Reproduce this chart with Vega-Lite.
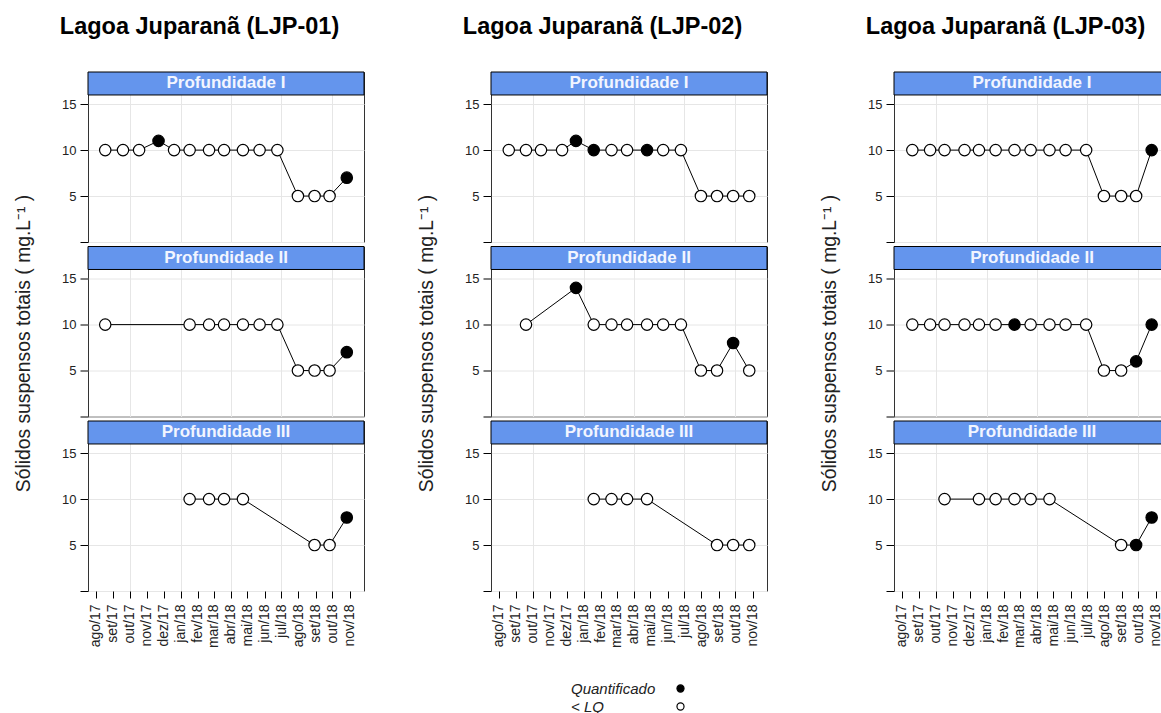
{
  "$schema": "https://vega.github.io/schema/vega-lite/v6.json",
  "padding": {"left": 14, "top": 14, "right": 0, "bottom": 0},
  "background": "white",
  "data": {"values": [
    {"estacao":"LJP-01","prof":"Profundidade I","data":"2017-08-18","valor":10,"status":"< LQ"},
    {"estacao":"LJP-01","prof":"Profundidade I","data":"2017-09-19","valor":10,"status":"< LQ"},
    {"estacao":"LJP-01","prof":"Profundidade I","data":"2017-10-18","valor":10,"status":"< LQ"},
    {"estacao":"LJP-01","prof":"Profundidade I","data":"2017-11-22","valor":11,"status":"Quantificado"},
    {"estacao":"LJP-01","prof":"Profundidade I","data":"2017-12-20","valor":10,"status":"< LQ"},
    {"estacao":"LJP-01","prof":"Profundidade I","data":"2018-01-17","valor":10,"status":"< LQ"},
    {"estacao":"LJP-01","prof":"Profundidade I","data":"2018-02-21","valor":10,"status":"< LQ"},
    {"estacao":"LJP-01","prof":"Profundidade I","data":"2018-03-20","valor":10,"status":"< LQ"},
    {"estacao":"LJP-01","prof":"Profundidade I","data":"2018-04-23","valor":10,"status":"< LQ"},
    {"estacao":"LJP-01","prof":"Profundidade I","data":"2018-05-23","valor":10,"status":"< LQ"},
    {"estacao":"LJP-01","prof":"Profundidade I","data":"2018-06-24","valor":10,"status":"< LQ"},
    {"estacao":"LJP-01","prof":"Profundidade I","data":"2018-07-31","valor":5,"status":"< LQ"},
    {"estacao":"LJP-01","prof":"Profundidade I","data":"2018-08-30","valor":5,"status":"< LQ"},
    {"estacao":"LJP-01","prof":"Profundidade I","data":"2018-09-26","valor":5,"status":"< LQ"},
    {"estacao":"LJP-01","prof":"Profundidade I","data":"2018-10-27","valor":7,"status":"Quantificado"},
    {"estacao":"LJP-01","prof":"Profundidade II","data":"2017-08-18","valor":10,"status":"< LQ"},
    {"estacao":"LJP-01","prof":"Profundidade II","data":"2018-01-17","valor":10,"status":"< LQ"},
    {"estacao":"LJP-01","prof":"Profundidade II","data":"2018-02-21","valor":10,"status":"< LQ"},
    {"estacao":"LJP-01","prof":"Profundidade II","data":"2018-03-20","valor":10,"status":"< LQ"},
    {"estacao":"LJP-01","prof":"Profundidade II","data":"2018-04-23","valor":10,"status":"< LQ"},
    {"estacao":"LJP-01","prof":"Profundidade II","data":"2018-05-23","valor":10,"status":"< LQ"},
    {"estacao":"LJP-01","prof":"Profundidade II","data":"2018-06-24","valor":10,"status":"< LQ"},
    {"estacao":"LJP-01","prof":"Profundidade II","data":"2018-07-31","valor":5,"status":"< LQ"},
    {"estacao":"LJP-01","prof":"Profundidade II","data":"2018-08-30","valor":5,"status":"< LQ"},
    {"estacao":"LJP-01","prof":"Profundidade II","data":"2018-09-26","valor":5,"status":"< LQ"},
    {"estacao":"LJP-01","prof":"Profundidade II","data":"2018-10-27","valor":7,"status":"Quantificado"},
    {"estacao":"LJP-01","prof":"Profundidade III","data":"2018-01-17","valor":10,"status":"< LQ"},
    {"estacao":"LJP-01","prof":"Profundidade III","data":"2018-02-21","valor":10,"status":"< LQ"},
    {"estacao":"LJP-01","prof":"Profundidade III","data":"2018-03-20","valor":10,"status":"< LQ"},
    {"estacao":"LJP-01","prof":"Profundidade III","data":"2018-04-23","valor":10,"status":"< LQ"},
    {"estacao":"LJP-01","prof":"Profundidade III","data":"2018-08-30","valor":5,"status":"< LQ"},
    {"estacao":"LJP-01","prof":"Profundidade III","data":"2018-09-26","valor":5,"status":"< LQ"},
    {"estacao":"LJP-01","prof":"Profundidade III","data":"2018-10-27","valor":8,"status":"Quantificado"},
    {"estacao":"LJP-02","prof":"Profundidade I","data":"2017-08-19","valor":10,"status":"< LQ"},
    {"estacao":"LJP-02","prof":"Profundidade I","data":"2017-09-19","valor":10,"status":"< LQ"},
    {"estacao":"LJP-02","prof":"Profundidade I","data":"2017-10-16","valor":10,"status":"< LQ"},
    {"estacao":"LJP-02","prof":"Profundidade I","data":"2017-11-23","valor":10,"status":"< LQ"},
    {"estacao":"LJP-02","prof":"Profundidade I","data":"2017-12-18","valor":11,"status":"Quantificado"},
    {"estacao":"LJP-02","prof":"Profundidade I","data":"2018-01-19","valor":10,"status":"Quantificado"},
    {"estacao":"LJP-02","prof":"Profundidade I","data":"2018-02-20","valor":10,"status":"< LQ"},
    {"estacao":"LJP-02","prof":"Profundidade I","data":"2018-03-20","valor":10,"status":"< LQ"},
    {"estacao":"LJP-02","prof":"Profundidade I","data":"2018-04-25","valor":10,"status":"Quantificado"},
    {"estacao":"LJP-02","prof":"Profundidade I","data":"2018-05-24","valor":10,"status":"< LQ"},
    {"estacao":"LJP-02","prof":"Profundidade I","data":"2018-06-25","valor":10,"status":"< LQ"},
    {"estacao":"LJP-02","prof":"Profundidade I","data":"2018-07-31","valor":5,"status":"< LQ"},
    {"estacao":"LJP-02","prof":"Profundidade I","data":"2018-08-29","valor":5,"status":"< LQ"},
    {"estacao":"LJP-02","prof":"Profundidade I","data":"2018-09-27","valor":5,"status":"< LQ"},
    {"estacao":"LJP-02","prof":"Profundidade I","data":"2018-10-26","valor":5,"status":"< LQ"},
    {"estacao":"LJP-02","prof":"Profundidade II","data":"2017-09-19","valor":10,"status":"< LQ"},
    {"estacao":"LJP-02","prof":"Profundidade II","data":"2017-12-18","valor":14,"status":"Quantificado"},
    {"estacao":"LJP-02","prof":"Profundidade II","data":"2018-01-19","valor":10,"status":"< LQ"},
    {"estacao":"LJP-02","prof":"Profundidade II","data":"2018-02-20","valor":10,"status":"< LQ"},
    {"estacao":"LJP-02","prof":"Profundidade II","data":"2018-03-20","valor":10,"status":"< LQ"},
    {"estacao":"LJP-02","prof":"Profundidade II","data":"2018-04-25","valor":10,"status":"< LQ"},
    {"estacao":"LJP-02","prof":"Profundidade II","data":"2018-05-24","valor":10,"status":"< LQ"},
    {"estacao":"LJP-02","prof":"Profundidade II","data":"2018-06-25","valor":10,"status":"< LQ"},
    {"estacao":"LJP-02","prof":"Profundidade II","data":"2018-07-31","valor":5,"status":"< LQ"},
    {"estacao":"LJP-02","prof":"Profundidade II","data":"2018-08-29","valor":5,"status":"< LQ"},
    {"estacao":"LJP-02","prof":"Profundidade II","data":"2018-09-27","valor":8,"status":"Quantificado"},
    {"estacao":"LJP-02","prof":"Profundidade II","data":"2018-10-26","valor":5,"status":"< LQ"},
    {"estacao":"LJP-02","prof":"Profundidade III","data":"2018-01-19","valor":10,"status":"< LQ"},
    {"estacao":"LJP-02","prof":"Profundidade III","data":"2018-02-20","valor":10,"status":"< LQ"},
    {"estacao":"LJP-02","prof":"Profundidade III","data":"2018-03-20","valor":10,"status":"< LQ"},
    {"estacao":"LJP-02","prof":"Profundidade III","data":"2018-04-25","valor":10,"status":"< LQ"},
    {"estacao":"LJP-02","prof":"Profundidade III","data":"2018-08-29","valor":5,"status":"< LQ"},
    {"estacao":"LJP-02","prof":"Profundidade III","data":"2018-09-27","valor":5,"status":"< LQ"},
    {"estacao":"LJP-02","prof":"Profundidade III","data":"2018-10-26","valor":5,"status":"< LQ"},
    {"estacao":"LJP-03","prof":"Profundidade I","data":"2017-08-20","valor":10,"status":"< LQ"},
    {"estacao":"LJP-03","prof":"Profundidade I","data":"2017-09-21","valor":10,"status":"< LQ"},
    {"estacao":"LJP-03","prof":"Profundidade I","data":"2017-10-17","valor":10,"status":"< LQ"},
    {"estacao":"LJP-03","prof":"Profundidade I","data":"2017-11-22","valor":10,"status":"< LQ"},
    {"estacao":"LJP-03","prof":"Profundidade I","data":"2017-12-18","valor":10,"status":"< LQ"},
    {"estacao":"LJP-03","prof":"Profundidade I","data":"2018-01-17","valor":10,"status":"< LQ"},
    {"estacao":"LJP-03","prof":"Profundidade I","data":"2018-02-20","valor":10,"status":"< LQ"},
    {"estacao":"LJP-03","prof":"Profundidade I","data":"2018-03-21","valor":10,"status":"< LQ"},
    {"estacao":"LJP-03","prof":"Profundidade I","data":"2018-04-24","valor":10,"status":"< LQ"},
    {"estacao":"LJP-03","prof":"Profundidade I","data":"2018-05-23","valor":10,"status":"< LQ"},
    {"estacao":"LJP-03","prof":"Profundidade I","data":"2018-06-29","valor":10,"status":"< LQ"},
    {"estacao":"LJP-03","prof":"Profundidade I","data":"2018-07-31","valor":5,"status":"< LQ"},
    {"estacao":"LJP-03","prof":"Profundidade I","data":"2018-08-31","valor":5,"status":"< LQ"},
    {"estacao":"LJP-03","prof":"Profundidade I","data":"2018-09-27","valor":5,"status":"< LQ"},
    {"estacao":"LJP-03","prof":"Profundidade I","data":"2018-10-25","valor":10,"status":"Quantificado"},
    {"estacao":"LJP-03","prof":"Profundidade II","data":"2017-08-20","valor":10,"status":"< LQ"},
    {"estacao":"LJP-03","prof":"Profundidade II","data":"2017-09-21","valor":10,"status":"< LQ"},
    {"estacao":"LJP-03","prof":"Profundidade II","data":"2017-10-17","valor":10,"status":"< LQ"},
    {"estacao":"LJP-03","prof":"Profundidade II","data":"2017-11-22","valor":10,"status":"< LQ"},
    {"estacao":"LJP-03","prof":"Profundidade II","data":"2017-12-18","valor":10,"status":"< LQ"},
    {"estacao":"LJP-03","prof":"Profundidade II","data":"2018-01-17","valor":10,"status":"< LQ"},
    {"estacao":"LJP-03","prof":"Profundidade II","data":"2018-02-20","valor":10,"status":"Quantificado"},
    {"estacao":"LJP-03","prof":"Profundidade II","data":"2018-03-21","valor":10,"status":"< LQ"},
    {"estacao":"LJP-03","prof":"Profundidade II","data":"2018-04-24","valor":10,"status":"< LQ"},
    {"estacao":"LJP-03","prof":"Profundidade II","data":"2018-05-23","valor":10,"status":"< LQ"},
    {"estacao":"LJP-03","prof":"Profundidade II","data":"2018-06-29","valor":10,"status":"< LQ"},
    {"estacao":"LJP-03","prof":"Profundidade II","data":"2018-07-31","valor":5,"status":"< LQ"},
    {"estacao":"LJP-03","prof":"Profundidade II","data":"2018-08-31","valor":5,"status":"< LQ"},
    {"estacao":"LJP-03","prof":"Profundidade II","data":"2018-09-27","valor":6,"status":"Quantificado"},
    {"estacao":"LJP-03","prof":"Profundidade II","data":"2018-10-25","valor":10,"status":"Quantificado"},
    {"estacao":"LJP-03","prof":"Profundidade III","data":"2017-10-17","valor":10,"status":"< LQ"},
    {"estacao":"LJP-03","prof":"Profundidade III","data":"2017-12-18","valor":10,"status":"< LQ"},
    {"estacao":"LJP-03","prof":"Profundidade III","data":"2018-01-17","valor":10,"status":"< LQ"},
    {"estacao":"LJP-03","prof":"Profundidade III","data":"2018-02-20","valor":10,"status":"< LQ"},
    {"estacao":"LJP-03","prof":"Profundidade III","data":"2018-03-21","valor":10,"status":"< LQ"},
    {"estacao":"LJP-03","prof":"Profundidade III","data":"2018-04-24","valor":10,"status":"< LQ"},
    {"estacao":"LJP-03","prof":"Profundidade III","data":"2018-08-31","valor":5,"status":"< LQ"},
    {"estacao":"LJP-03","prof":"Profundidade III","data":"2018-09-27","valor":5,"status":"Quantificado"},
    {"estacao":"LJP-03","prof":"Profundidade III","data":"2018-10-25","valor":8,"status":"Quantificado"}
  ]},
  "spacing": 52,
  "resolve": {"scale": {"fill": "shared"}, "legend": {"fill": "shared"}},
  "hconcat": [
    {
      "title": {"text": "Lagoa Juparanã (LJP-01)", "fontSize": 23.5, "fontWeight": "bold", "color": "black", "anchor": "middle", "offset": 33, "dx": 10},
      "spacing": 4.5, "bounds": "flush",
      "resolve": {"scale": {"fill": "shared"}, "legend": {"fill": "shared"}},
      "vconcat": [
        {"width": 276, "height": 170, "layer": [
          {"data": {"values": [{"prof": "Profundidade I"}]}, "mark": {"type": "rect", "fill": "#6495ED", "stroke": "black", "strokeWidth": 1}, "encoding": {"y": {"datum": 16, "type": "quantitative"}, "y2": {"datum": 18.5}}},
          {"data": {"values": [{"prof": "Profundidade I"}]}, "mark": {"type": "text", "color": "#f2f5ff", "fontSize": 17, "fontWeight": "bold", "baseline": "middle"}, "encoding": {"y": {"datum": 17.25, "type": "quantitative"}, "text": {"field": "prof"}}},
          {"transform": [{"filter": "datum.estacao == 'LJP-01' && datum.prof == 'Profundidade I'"}],
           "encoding": {
             "x": {"field": "data", "type": "temporal", "scale": {"type": "utc", "nice": false, "domain": [{"year": 2017, "month": 7, "date": 18, "utc": true}, {"year": 2018, "month": 11, "date": 27, "utc": true}]}, "axis": {"title": null, "labels": false, "ticks": false, "domain": false, "tickCount": {"interval": "month", "step": 1}, "grid": true, "gridColor": "#e6e6e6", "gridOpacity": {"condition": {"test": "utcmonth(datum.value) % 3 == 0", "value": 1}, "value": 0}}},
             "y": {"field": "valor", "type": "quantitative", "scale": {"domain": [0, 18.5], "nice": false, "zero": false}, "axis": {"title": null, "values": [0, 5, 10, 15], "labelExpr": "datum.value == 0 ? '' : datum.label", "tickSize": 8, "tickColor": "black", "labelFontSize": 13, "labelPadding": 4, "domain": false, "grid": true, "gridColor": "#e6e6e6"}}
           },
           "layer": [
             {"mark": {"type": "line", "color": "black", "strokeWidth": 1}, "encoding": {}},
             {"mark": {"type": "point", "shape": "circle", "filled": true, "size": 130, "stroke": "black", "strokeWidth": 1.2, "opacity": 1}, "encoding": {"fill": {"field": "status", "type": "nominal", "scale": {"domain": ["Quantificado", "< LQ"], "range": ["black", "white"]}, "legend": {"title": null, "orient": "none", "legendX": 585, "legendY": 609}}}}
           ]}
        ]},
        {"width": 276, "height": 170, "layer": [
          {"data": {"values": [{"prof": "Profundidade II"}]}, "mark": {"type": "rect", "fill": "#6495ED", "stroke": "black", "strokeWidth": 1}, "encoding": {"y": {"datum": 16, "type": "quantitative"}, "y2": {"datum": 18.5}}},
          {"data": {"values": [{"prof": "Profundidade II"}]}, "mark": {"type": "text", "color": "#f2f5ff", "fontSize": 17, "fontWeight": "bold", "baseline": "middle"}, "encoding": {"y": {"datum": 17.25, "type": "quantitative"}, "text": {"field": "prof"}}},
          {"transform": [{"filter": "datum.estacao == 'LJP-01' && datum.prof == 'Profundidade II'"}],
           "encoding": {
             "x": {"field": "data", "type": "temporal", "scale": {"type": "utc", "nice": false, "domain": [{"year": 2017, "month": 7, "date": 18, "utc": true}, {"year": 2018, "month": 11, "date": 27, "utc": true}]}, "axis": {"title": null, "labels": false, "ticks": false, "domain": false, "tickCount": {"interval": "month", "step": 1}, "grid": true, "gridColor": "#e6e6e6", "gridOpacity": {"condition": {"test": "utcmonth(datum.value) % 3 == 0", "value": 1}, "value": 0}}},
             "y": {"field": "valor", "type": "quantitative", "scale": {"domain": [0, 18.5], "nice": false, "zero": false}, "axis": {"title": "Sólidos suspensos totais ( mg.L⁻¹ )", "titleFontSize": 19.3, "titleFontWeight": "normal", "titlePadding": 28, "titleY": 96.5, "values": [0, 5, 10, 15], "labelExpr": "datum.value == 0 ? '' : datum.label", "tickSize": 8, "tickColor": "black", "labelFontSize": 13, "labelPadding": 4, "domain": false, "grid": true, "gridColor": "#e6e6e6"}}
           },
           "layer": [
             {"mark": {"type": "line", "color": "black", "strokeWidth": 1}, "encoding": {}},
             {"mark": {"type": "point", "shape": "circle", "filled": true, "size": 130, "stroke": "black", "strokeWidth": 1.2, "opacity": 1}, "encoding": {"fill": {"field": "status", "type": "nominal", "scale": {"domain": ["Quantificado", "< LQ"], "range": ["black", "white"]}, "legend": {"title": null, "orient": "none", "legendX": 585, "legendY": 609}}}}
           ]}
        ]},
        {"width": 276, "height": 170, "layer": [
          {"data": {"values": [{"prof": "Profundidade III"}]}, "mark": {"type": "rect", "fill": "#6495ED", "stroke": "black", "strokeWidth": 1}, "encoding": {"y": {"datum": 16, "type": "quantitative"}, "y2": {"datum": 18.5}}},
          {"data": {"values": [{"prof": "Profundidade III"}]}, "mark": {"type": "text", "color": "#f2f5ff", "fontSize": 17, "fontWeight": "bold", "baseline": "middle"}, "encoding": {"y": {"datum": 17.25, "type": "quantitative"}, "text": {"field": "prof"}}},
          {"transform": [{"filter": "datum.estacao == 'LJP-01' && datum.prof == 'Profundidade III'"}],
           "encoding": {
             "x": {"field": "data", "type": "temporal", "scale": {"type": "utc", "nice": false, "domain": [{"year": 2017, "month": 7, "date": 18, "utc": true}, {"year": 2018, "month": 11, "date": 27, "utc": true}]}, "axis": {"title": null, "labels": true, "ticks": true, "tickSize": 7, "tickColor": "black", "domain": false, "tickCount": {"interval": "month", "step": 1}, "labelExpr": "['jan','fev','mar','abr','mai','jun','jul','ago','set','out','nov','dez'][utcmonth(datum.value)] + '/' + utcFormat(datum.value, '%y')", "labelAngle": 270, "labelFontSize": 14, "labelPadding": 6, "labelOverlap": false, "labelFlush": false, "labelBound": false, "grid": true, "gridColor": "#e6e6e6", "gridOpacity": {"condition": {"test": "utcmonth(datum.value) % 3 == 0", "value": 1}, "value": 0}}},
             "y": {"field": "valor", "type": "quantitative", "scale": {"domain": [0, 18.5], "nice": false, "zero": false}, "axis": {"title": null, "values": [0, 5, 10, 15], "labelExpr": "datum.value == 0 ? '' : datum.label", "tickSize": 8, "tickColor": "black", "labelFontSize": 13, "labelPadding": 4, "domain": false, "grid": true, "gridColor": "#e6e6e6"}}
           },
           "layer": [
             {"mark": {"type": "line", "color": "black", "strokeWidth": 1}, "encoding": {}},
             {"mark": {"type": "point", "shape": "circle", "filled": true, "size": 130, "stroke": "black", "strokeWidth": 1.2, "opacity": 1}, "encoding": {"fill": {"field": "status", "type": "nominal", "scale": {"domain": ["Quantificado", "< LQ"], "range": ["black", "white"]}, "legend": {"title": null, "orient": "none", "legendX": 585, "legendY": 609}}}}
           ]}
        ]}
      ]
    },
    {
      "title": {"text": "Lagoa Juparanã (LJP-02)", "fontSize": 23.5, "fontWeight": "bold", "color": "black", "anchor": "middle", "offset": 33, "dx": 10},
      "spacing": 4.5, "bounds": "flush",
      "resolve": {"scale": {"fill": "shared"}, "legend": {"fill": "shared"}},
      "vconcat": [
        {"width": 276, "height": 170, "layer": [
          {"data": {"values": [{"prof": "Profundidade I"}]}, "mark": {"type": "rect", "fill": "#6495ED", "stroke": "black", "strokeWidth": 1}, "encoding": {"y": {"datum": 16, "type": "quantitative"}, "y2": {"datum": 18.5}}},
          {"data": {"values": [{"prof": "Profundidade I"}]}, "mark": {"type": "text", "color": "#f2f5ff", "fontSize": 17, "fontWeight": "bold", "baseline": "middle"}, "encoding": {"y": {"datum": 17.25, "type": "quantitative"}, "text": {"field": "prof"}}},
          {"transform": [{"filter": "datum.estacao == 'LJP-02' && datum.prof == 'Profundidade I'"}],
           "encoding": {
             "x": {"field": "data", "type": "temporal", "scale": {"type": "utc", "nice": false, "domain": [{"year": 2017, "month": 7, "date": 18, "utc": true}, {"year": 2018, "month": 11, "date": 27, "utc": true}]}, "axis": {"title": null, "labels": false, "ticks": false, "domain": false, "tickCount": {"interval": "month", "step": 1}, "grid": true, "gridColor": "#e6e6e6", "gridOpacity": {"condition": {"test": "utcmonth(datum.value) % 3 == 0", "value": 1}, "value": 0}}},
             "y": {"field": "valor", "type": "quantitative", "scale": {"domain": [0, 18.5], "nice": false, "zero": false}, "axis": {"title": null, "values": [0, 5, 10, 15], "labelExpr": "datum.value == 0 ? '' : datum.label", "tickSize": 8, "tickColor": "black", "labelFontSize": 13, "labelPadding": 4, "domain": false, "grid": true, "gridColor": "#e6e6e6"}}
           },
           "layer": [
             {"mark": {"type": "line", "color": "black", "strokeWidth": 1}, "encoding": {}},
             {"mark": {"type": "point", "shape": "circle", "filled": true, "size": 130, "stroke": "black", "strokeWidth": 1.2, "opacity": 1}, "encoding": {"fill": {"field": "status", "type": "nominal", "scale": {"domain": ["Quantificado", "< LQ"], "range": ["black", "white"]}, "legend": {"title": null, "orient": "none", "legendX": 585, "legendY": 609}}}}
           ]}
        ]},
        {"width": 276, "height": 170, "layer": [
          {"data": {"values": [{"prof": "Profundidade II"}]}, "mark": {"type": "rect", "fill": "#6495ED", "stroke": "black", "strokeWidth": 1}, "encoding": {"y": {"datum": 16, "type": "quantitative"}, "y2": {"datum": 18.5}}},
          {"data": {"values": [{"prof": "Profundidade II"}]}, "mark": {"type": "text", "color": "#f2f5ff", "fontSize": 17, "fontWeight": "bold", "baseline": "middle"}, "encoding": {"y": {"datum": 17.25, "type": "quantitative"}, "text": {"field": "prof"}}},
          {"transform": [{"filter": "datum.estacao == 'LJP-02' && datum.prof == 'Profundidade II'"}],
           "encoding": {
             "x": {"field": "data", "type": "temporal", "scale": {"type": "utc", "nice": false, "domain": [{"year": 2017, "month": 7, "date": 18, "utc": true}, {"year": 2018, "month": 11, "date": 27, "utc": true}]}, "axis": {"title": null, "labels": false, "ticks": false, "domain": false, "tickCount": {"interval": "month", "step": 1}, "grid": true, "gridColor": "#e6e6e6", "gridOpacity": {"condition": {"test": "utcmonth(datum.value) % 3 == 0", "value": 1}, "value": 0}}},
             "y": {"field": "valor", "type": "quantitative", "scale": {"domain": [0, 18.5], "nice": false, "zero": false}, "axis": {"title": "Sólidos suspensos totais ( mg.L⁻¹ )", "titleFontSize": 19.3, "titleFontWeight": "normal", "titlePadding": 28, "titleY": 96.5, "values": [0, 5, 10, 15], "labelExpr": "datum.value == 0 ? '' : datum.label", "tickSize": 8, "tickColor": "black", "labelFontSize": 13, "labelPadding": 4, "domain": false, "grid": true, "gridColor": "#e6e6e6"}}
           },
           "layer": [
             {"mark": {"type": "line", "color": "black", "strokeWidth": 1}, "encoding": {}},
             {"mark": {"type": "point", "shape": "circle", "filled": true, "size": 130, "stroke": "black", "strokeWidth": 1.2, "opacity": 1}, "encoding": {"fill": {"field": "status", "type": "nominal", "scale": {"domain": ["Quantificado", "< LQ"], "range": ["black", "white"]}, "legend": {"title": null, "orient": "none", "legendX": 585, "legendY": 609}}}}
           ]}
        ]},
        {"width": 276, "height": 170, "layer": [
          {"data": {"values": [{"prof": "Profundidade III"}]}, "mark": {"type": "rect", "fill": "#6495ED", "stroke": "black", "strokeWidth": 1}, "encoding": {"y": {"datum": 16, "type": "quantitative"}, "y2": {"datum": 18.5}}},
          {"data": {"values": [{"prof": "Profundidade III"}]}, "mark": {"type": "text", "color": "#f2f5ff", "fontSize": 17, "fontWeight": "bold", "baseline": "middle"}, "encoding": {"y": {"datum": 17.25, "type": "quantitative"}, "text": {"field": "prof"}}},
          {"transform": [{"filter": "datum.estacao == 'LJP-02' && datum.prof == 'Profundidade III'"}],
           "encoding": {
             "x": {"field": "data", "type": "temporal", "scale": {"type": "utc", "nice": false, "domain": [{"year": 2017, "month": 7, "date": 18, "utc": true}, {"year": 2018, "month": 11, "date": 27, "utc": true}]}, "axis": {"title": null, "labels": true, "ticks": true, "tickSize": 7, "tickColor": "black", "domain": false, "tickCount": {"interval": "month", "step": 1}, "labelExpr": "['jan','fev','mar','abr','mai','jun','jul','ago','set','out','nov','dez'][utcmonth(datum.value)] + '/' + utcFormat(datum.value, '%y')", "labelAngle": 270, "labelFontSize": 14, "labelPadding": 6, "labelOverlap": false, "labelFlush": false, "labelBound": false, "grid": true, "gridColor": "#e6e6e6", "gridOpacity": {"condition": {"test": "utcmonth(datum.value) % 3 == 0", "value": 1}, "value": 0}}},
             "y": {"field": "valor", "type": "quantitative", "scale": {"domain": [0, 18.5], "nice": false, "zero": false}, "axis": {"title": null, "values": [0, 5, 10, 15], "labelExpr": "datum.value == 0 ? '' : datum.label", "tickSize": 8, "tickColor": "black", "labelFontSize": 13, "labelPadding": 4, "domain": false, "grid": true, "gridColor": "#e6e6e6"}}
           },
           "layer": [
             {"mark": {"type": "line", "color": "black", "strokeWidth": 1}, "encoding": {}},
             {"mark": {"type": "point", "shape": "circle", "filled": true, "size": 130, "stroke": "black", "strokeWidth": 1.2, "opacity": 1}, "encoding": {"fill": {"field": "status", "type": "nominal", "scale": {"domain": ["Quantificado", "< LQ"], "range": ["black", "white"]}, "legend": {"title": null, "orient": "none", "legendX": 585, "legendY": 609}}}}
           ]}
        ]}
      ]
    },
    {
      "title": {"text": "Lagoa Juparanã (LJP-03)", "fontSize": 23.5, "fontWeight": "bold", "color": "black", "anchor": "middle", "offset": 33, "dx": 10},
      "spacing": 4.5, "bounds": "flush",
      "resolve": {"scale": {"fill": "shared"}, "legend": {"fill": "shared"}},
      "vconcat": [
        {"width": 276, "height": 170, "layer": [
          {"data": {"values": [{"prof": "Profundidade I"}]}, "mark": {"type": "rect", "fill": "#6495ED", "stroke": "black", "strokeWidth": 1}, "encoding": {"y": {"datum": 16, "type": "quantitative"}, "y2": {"datum": 18.5}}},
          {"data": {"values": [{"prof": "Profundidade I"}]}, "mark": {"type": "text", "color": "#f2f5ff", "fontSize": 17, "fontWeight": "bold", "baseline": "middle"}, "encoding": {"y": {"datum": 17.25, "type": "quantitative"}, "text": {"field": "prof"}}},
          {"transform": [{"filter": "datum.estacao == 'LJP-03' && datum.prof == 'Profundidade I'"}],
           "encoding": {
             "x": {"field": "data", "type": "temporal", "scale": {"type": "utc", "nice": false, "domain": [{"year": 2017, "month": 7, "date": 18, "utc": true}, {"year": 2018, "month": 11, "date": 27, "utc": true}]}, "axis": {"title": null, "labels": false, "ticks": false, "domain": false, "tickCount": {"interval": "month", "step": 1}, "grid": true, "gridColor": "#e6e6e6", "gridOpacity": {"condition": {"test": "utcmonth(datum.value) % 3 == 0", "value": 1}, "value": 0}}},
             "y": {"field": "valor", "type": "quantitative", "scale": {"domain": [0, 18.5], "nice": false, "zero": false}, "axis": {"title": null, "values": [0, 5, 10, 15], "labelExpr": "datum.value == 0 ? '' : datum.label", "tickSize": 8, "tickColor": "black", "labelFontSize": 13, "labelPadding": 4, "domain": false, "grid": true, "gridColor": "#e6e6e6"}}
           },
           "layer": [
             {"mark": {"type": "line", "color": "black", "strokeWidth": 1}, "encoding": {}},
             {"mark": {"type": "point", "shape": "circle", "filled": true, "size": 130, "stroke": "black", "strokeWidth": 1.2, "opacity": 1}, "encoding": {"fill": {"field": "status", "type": "nominal", "scale": {"domain": ["Quantificado", "< LQ"], "range": ["black", "white"]}, "legend": {"title": null, "orient": "none", "legendX": 585, "legendY": 609}}}}
           ]}
        ]},
        {"width": 276, "height": 170, "layer": [
          {"data": {"values": [{"prof": "Profundidade II"}]}, "mark": {"type": "rect", "fill": "#6495ED", "stroke": "black", "strokeWidth": 1}, "encoding": {"y": {"datum": 16, "type": "quantitative"}, "y2": {"datum": 18.5}}},
          {"data": {"values": [{"prof": "Profundidade II"}]}, "mark": {"type": "text", "color": "#f2f5ff", "fontSize": 17, "fontWeight": "bold", "baseline": "middle"}, "encoding": {"y": {"datum": 17.25, "type": "quantitative"}, "text": {"field": "prof"}}},
          {"transform": [{"filter": "datum.estacao == 'LJP-03' && datum.prof == 'Profundidade II'"}],
           "encoding": {
             "x": {"field": "data", "type": "temporal", "scale": {"type": "utc", "nice": false, "domain": [{"year": 2017, "month": 7, "date": 18, "utc": true}, {"year": 2018, "month": 11, "date": 27, "utc": true}]}, "axis": {"title": null, "labels": false, "ticks": false, "domain": false, "tickCount": {"interval": "month", "step": 1}, "grid": true, "gridColor": "#e6e6e6", "gridOpacity": {"condition": {"test": "utcmonth(datum.value) % 3 == 0", "value": 1}, "value": 0}}},
             "y": {"field": "valor", "type": "quantitative", "scale": {"domain": [0, 18.5], "nice": false, "zero": false}, "axis": {"title": "Sólidos suspensos totais ( mg.L⁻¹ )", "titleFontSize": 19.3, "titleFontWeight": "normal", "titlePadding": 28, "titleY": 96.5, "values": [0, 5, 10, 15], "labelExpr": "datum.value == 0 ? '' : datum.label", "tickSize": 8, "tickColor": "black", "labelFontSize": 13, "labelPadding": 4, "domain": false, "grid": true, "gridColor": "#e6e6e6"}}
           },
           "layer": [
             {"mark": {"type": "line", "color": "black", "strokeWidth": 1}, "encoding": {}},
             {"mark": {"type": "point", "shape": "circle", "filled": true, "size": 130, "stroke": "black", "strokeWidth": 1.2, "opacity": 1}, "encoding": {"fill": {"field": "status", "type": "nominal", "scale": {"domain": ["Quantificado", "< LQ"], "range": ["black", "white"]}, "legend": {"title": null, "orient": "none", "legendX": 585, "legendY": 609}}}}
           ]}
        ]},
        {"width": 276, "height": 170, "layer": [
          {"data": {"values": [{"prof": "Profundidade III"}]}, "mark": {"type": "rect", "fill": "#6495ED", "stroke": "black", "strokeWidth": 1}, "encoding": {"y": {"datum": 16, "type": "quantitative"}, "y2": {"datum": 18.5}}},
          {"data": {"values": [{"prof": "Profundidade III"}]}, "mark": {"type": "text", "color": "#f2f5ff", "fontSize": 17, "fontWeight": "bold", "baseline": "middle"}, "encoding": {"y": {"datum": 17.25, "type": "quantitative"}, "text": {"field": "prof"}}},
          {"transform": [{"filter": "datum.estacao == 'LJP-03' && datum.prof == 'Profundidade III'"}],
           "encoding": {
             "x": {"field": "data", "type": "temporal", "scale": {"type": "utc", "nice": false, "domain": [{"year": 2017, "month": 7, "date": 18, "utc": true}, {"year": 2018, "month": 11, "date": 27, "utc": true}]}, "axis": {"title": null, "labels": true, "ticks": true, "tickSize": 7, "tickColor": "black", "domain": false, "tickCount": {"interval": "month", "step": 1}, "labelExpr": "['jan','fev','mar','abr','mai','jun','jul','ago','set','out','nov','dez'][utcmonth(datum.value)] + '/' + utcFormat(datum.value, '%y')", "labelAngle": 270, "labelFontSize": 14, "labelPadding": 6, "labelOverlap": false, "labelFlush": false, "labelBound": false, "grid": true, "gridColor": "#e6e6e6", "gridOpacity": {"condition": {"test": "utcmonth(datum.value) % 3 == 0", "value": 1}, "value": 0}}},
             "y": {"field": "valor", "type": "quantitative", "scale": {"domain": [0, 18.5], "nice": false, "zero": false}, "axis": {"title": null, "values": [0, 5, 10, 15], "labelExpr": "datum.value == 0 ? '' : datum.label", "tickSize": 8, "tickColor": "black", "labelFontSize": 13, "labelPadding": 4, "domain": false, "grid": true, "gridColor": "#e6e6e6"}}
           },
           "layer": [
             {"mark": {"type": "line", "color": "black", "strokeWidth": 1}, "encoding": {}},
             {"mark": {"type": "point", "shape": "circle", "filled": true, "size": 130, "stroke": "black", "strokeWidth": 1.2, "opacity": 1}, "encoding": {"fill": {"field": "status", "type": "nominal", "scale": {"domain": ["Quantificado", "< LQ"], "range": ["black", "white"]}, "legend": {"title": null, "orient": "none", "legendX": 585, "legendY": 609}}}}
           ]}
        ]}
      ]
    }
  ],
  "config": {
    "font": "Liberation Sans",
    "view": {"stroke": "#333333", "strokeWidth": 1},
    "axis": {"labelColor": "#222222", "titleColor": "#222222", "labelFont": "Liberation Sans", "titleFont": "Liberation Sans"},
    "title": {"font": "Liberation Sans"},
    "legend": {"direction": "vertical", "labelFontStyle": "italic", "labelFontSize": 15, "labelColor": "#222222", "labelFont": "Liberation Sans", "labelAlign": "left", "labelOffset": -117, "symbolSize": 50, "symbolType": "circle", "symbolStrokeColor": "black", "symbolStrokeWidth": 1.2, "rowPadding": 2}
  }
}
